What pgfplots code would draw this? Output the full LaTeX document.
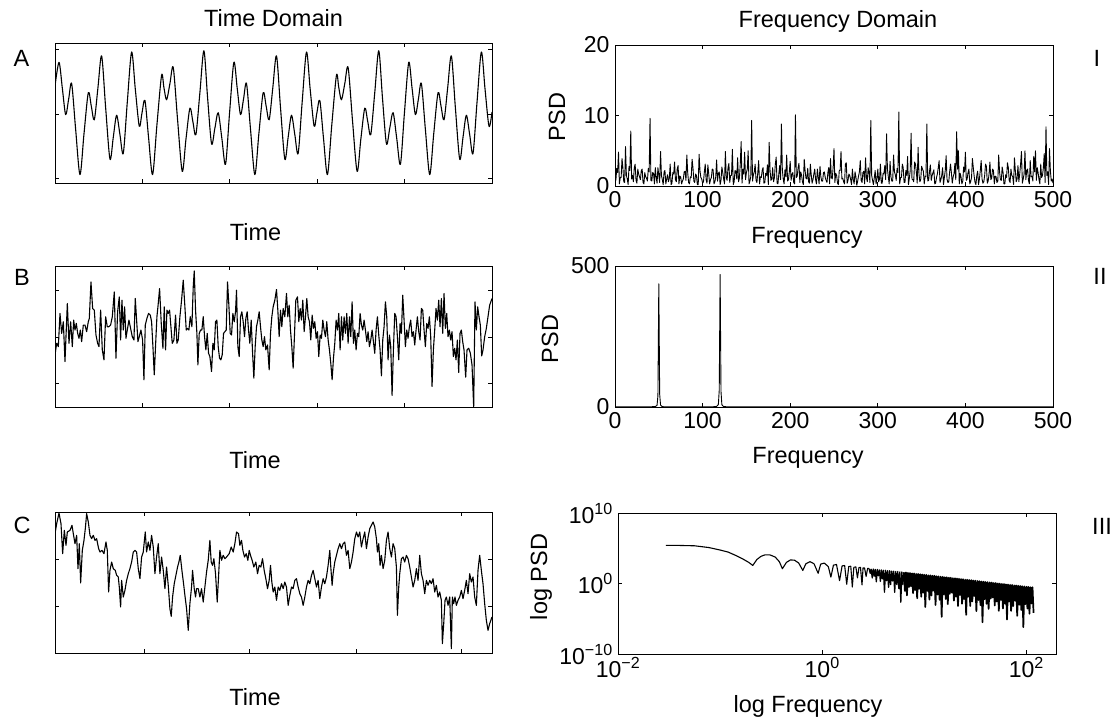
\documentclass[border=0pt]{standalone}
\usepackage{fontspec}
\setmainfont{Liberation Sans}
\usepackage{pgfplots}
\pgfplotsset{compat=1.18}

\newcommand\lab{\fontsize{23.5}{24}\selectfont}

\pgfplotsset{
  panel/.style={
    scale only axis, anchor=north west,
    axis line style={line width=0.9pt},
    every tick/.style={line width=0.9pt, black},
    major tick length=4pt,
    tick align=inside,
    tick label style={font=\fontsize{23}{23}\selectfont},
    xticklabel style={yshift=-1.5pt},
    yticklabel style={xshift=-2pt},
    /pgf/number format/assume math mode=true,
  },
  blank/.style={xticklabels={}, yticklabels={}},
  trace/.style={black, line width=1.1pt, line join=round, no markers},
}

\begin{document}
\begin{tikzpicture}
\useasboundingbox (0,0) rectangle (1117pt,-718pt);

% ---- left column: time domain ----
\begin{axis}[panel, blank, at={(55pt,-43pt)}, width=437pt, height=140pt,
  xmin=0, xmax=1312, ymin=-1.07, ymax=1.10,
  xtick={262.4,524.8,787.2,1049.6}, ytick={-1,0,1}]
\addplot[trace, smooth] coordinates {
(0,0.43)(12,0.80)(22,0.40)(32,-0.01)(41,0.23)(50,0.47)(62,-0.24)(75,-0.94)(87,-0.31)(100,0.33)(109,0.12)(118,-0.09)(129,0.41)(140,0.90)(152,0.10)(165,-0.70)(175,-0.36)(185,-0.02)(195,-0.32)(205,-0.61)(217,0.18)(230,0.96)(241,0.39)(253,-0.19)(261,0.01)(270,0.21)(281,-0.37)(293,-0.94)(306,-0.17)(320,0.60)(327,0.41)(335,0.22)(345,0.47)(355,0.72)(368,-0.09)(382,-0.89)(393,-0.40)(405,0.09)(414,-0.12)(423,-0.32)(435,0.33)(447,0.98)(458,0.26)(470,-0.46)(480,-0.22)(490,0.02)(501,-0.38)(512,-0.78)(524,0.01)
(537,0.80)(547,0.40)(557,-0.01)(566,0.23)(575,0.47)(587,-0.24)(600,-0.94)(612,-0.31)(625,0.33)(634,0.12)(643,-0.09)(654,0.41)(665,0.90)(677,0.10)(690,-0.70)(700,-0.36)(710,-0.02)(720,-0.32)(730,-0.61)(742,0.18)(755,0.96)(766,0.39)(778,-0.19)(786,0.01)(795,0.21)(806,-0.37)(818,-0.94)(831,-0.17)(845,0.60)(852,0.41)(860,0.22)(870,0.47)(880,0.72)(893,-0.09)(907,-0.89)(918,-0.40)(930,0.09)(939,-0.12)(948,-0.32)(960,0.33)(972,0.98)(983,0.26)(995,-0.46)(1005,-0.22)(1015,0.02)(1026,-0.38)(1037,-0.78)(1049,0.01)
(1062,0.80)(1072,0.40)(1082,-0.01)(1091,0.23)(1100,0.47)(1112,-0.24)(1125,-0.94)(1137,-0.31)(1150,0.33)(1159,0.12)(1168,-0.09)(1179,0.41)(1190,0.90)(1202,0.10)(1215,-0.70)(1225,-0.36)(1235,-0.02)(1245,-0.32)(1255,-0.61)(1267,0.18)(1280,0.96)(1291,0.39)(1303,-0.19)(1312,0.03)
};
\end{axis}

\begin{axis}[panel, blank, at={(55pt,-266pt)}, width=437pt, height=141pt,
  xmin=165, xmax=1477, ymin=-472, ymax=-47,
  xtick={427.4,689.8,952.2,1214.6}, ytick={-402,-262,-120}]
\addplot[trace] coordinates {
(165,-315)(170,-280)(175,-290)(180,-190)(185,-250)(190,-215)(195,-335)(202,-160)(207,-280)(212,-215)(217,-290)(221,-210)(225,-240)(229,-220)(233,-250)(237,-265)(241,-240)(245,-275)(250,-225)(255,-225)(260,-245)(265,-215)(268,-205)(273,-95)(278,-175)(283,-180)(288,-255)(293,-280)(297,-290)(302,-180)(307,-300)(312,-330)(317,-200)(322,-230)(327,-230)(332,-225)(337,-200)(343,-125)(348,-325)(353,-185)(358,-140)(362,-270)(366,-150)(370,-240)(374,-170)(378,-265)(382,-240)(387,-210)(392,-235)(397,-260)(402,-270)(406,-145)(410,-210)(414,-275)(418,-260)(423,-240)(428,-270)(432,-390)(436,-225)(441,-205)(446,-190)(451,-195)(455,-215)(459,-290)(463,-375)(467,-285)(471,-200)(475,-160)(479,-115)(484,-220)(489,-295)(493,-170)(497,-300)(501,-180)(505,-190)(509,-180)(513,-230)(517,-280)(522,-270)(527,-195)(531,-280)(535,-270)(540,-200)(545,-150)(550,-90)(555,-170)(559,-240)(563,-235)(567,-240)(571,-200)(576,-230)(580,-110)(583,-62)(587,-180)(591,-250)(594,-345)(598,-250)(602,-240)(606,-240)(610,-200)(614,-260)(618,-300)(622,-250)(626,-310)(630,-320)(635,-365)(639,-280)(643,-300)(647,-215)(651,-210)(655,-290)(659,-325)(663,-330)(667,-315)(671,-250)(675,-245)(679,-240)(683,-95)(687,-165)(691,-250)(695,-255)(699,-190)(703,-215)(707,-185)(710,-120)(714,-290)(718,-320)(722,-200)(726,-185)(730,-215)(734,-260)(738,-205)(742,-185)(746,-240)(750,-280)(754,-210)(758,-305)(762,-385)(766,-290)(770,-230)(774,-210)(778,-185)(782,-230)(786,-270)(790,-290)(794,-260)(798,-300)(803,-285)(808,-360)(812,-250)(816,-200)(820,-170)(825,-150)(830,-118)(834,-180)(838,-260)(842,-180)(846,-230)(850,-175)(855,-200)(860,-130)(864,-200)(868,-165)(872,-240)(876,-290)(880,-355)(884,-255)(888,-150)(893,-140)(897,-215)(901,-175)(905,-210)(909,-150)(913,-245)(917,-200)(921,-145)(925,-200)(929,-215)(933,-270)(937,-195)(941,-235)(945,-215)(949,-265)(953,-245)(957,-320)(961,-255)(965,-265)(969,-210)(973,-240)(977,-260)(981,-215)(985,-270)(989,-300)(993,-340)(997,-390)(1001,-325)(1005,-280)(1009,-210)(1013,-240)(1017,-190)(1021,-300)(1025,-200)(1029,-270)(1033,-200)(1037,-250)(1041,-190)(1045,-280)(1049,-200)(1053,-260)(1057,-155)(1061,-280)(1065,-240)(1069,-300)(1073,-250)(1077,-260)(1081,-190)(1085,-225)(1089,-240)(1093,-210)(1097,-240)(1101,-275)(1105,-245)(1109,-290)(1113,-270)(1117,-240)(1121,-275)(1125,-310)(1129,-240)(1133,-200)(1137,-255)(1141,-300)(1145,-378)(1149,-270)(1153,-230)(1157,-155)(1161,-200)(1165,-330)(1169,-255)(1173,-290)(1177,-437)(1181,-300)(1185,-190)(1189,-200)(1193,-260)(1197,-330)(1201,-220)(1205,-250)(1209,-135)(1213,-210)(1217,-290)(1221,-240)(1225,-265)(1229,-230)(1233,-210)(1237,-260)(1241,-245)(1245,-285)(1249,-240)(1253,-200)(1257,-245)(1261,-270)(1265,-175)(1269,-180)(1273,-240)(1277,-290)(1281,-220)(1285,-235)(1289,-200)(1293,-260)(1297,-410)(1301,-300)(1305,-240)(1309,-175)(1313,-210)(1317,-150)(1321,-230)(1325,-145)(1329,-250)(1333,-130)(1337,-235)(1341,-190)(1345,-260)(1349,-240)(1353,-270)(1357,-245)(1361,-320)(1365,-295)(1369,-330)(1373,-270)(1377,-368)(1381,-250)(1385,-240)(1389,-275)(1393,-300)(1398,-382)(1402,-300)(1407,-295)(1412,-310)(1417,-345)(1422,-472)(1426,-155)(1430,-240)(1434,-170)(1438,-200)(1442,-225)(1446,-318)(1450,-300)(1455,-260)(1460,-235)(1465,-200)(1470,-165)(1477,-145)
};
\end{axis}

\begin{axis}[panel, blank, at={(55pt,-512pt)}, width=437pt, height=141pt,
  xmin=165, xmax=1477, ymin=-488, ymax=-65,
  xtick={435,750,1070,1385}, ytick={-349,-207}]
\addplot[trace] coordinates {
(165,-130)(170,-100)(177,-68)(183,-100)(188,-190)(193,-120)(198,-165)(202,-125)(210,-120)(216,-105)(220,-130)(225,-160)(230,-135)(234,-235)(238,-160)(242,-278)(247,-180)(252,-150)(256,-115)(260,-70)(265,-95)(270,-135)(275,-145)(280,-135)(285,-150)(290,-145)(296,-175)(300,-185)(306,-180)(312,-190)(318,-155)(322,-180)(326,-305)(330,-240)(335,-215)(340,-235)(346,-240)(350,-255)(355,-260)(358,-290)(362,-350)(365,-270)(370,-320)(375,-300)(380,-270)(385,-250)(390,-235)(395,-215)(400,-185)(405,-180)(410,-185)(415,-235)(420,-265)(425,-200)(430,-185)(436,-125)(440,-185)(445,-155)(450,-180)(455,-135)(460,-170)(465,-250)(470,-200)(475,-160)(480,-250)(485,-200)(490,-240)(495,-295)(500,-230)(505,-285)(510,-355)(514,-378)(518,-320)(523,-280)(528,-255)(533,-230)(537,-215)(541,-195)(546,-240)(551,-280)(555,-315)(560,-355)(565,-420)(570,-340)(575,-290)(578,-240)(583,-295)(587,-320)(590,-295)(595,-295)(600,-320)(605,-295)(610,-335)(615,-290)(620,-245)(625,-210)(630,-150)(634,-215)(638,-225)(642,-205)(647,-250)(652,-335)(656,-260)(660,-180)(665,-210)(670,-195)(675,-205)(680,-200)(688,-190)(694,-170)(700,-185)(705,-160)(710,-125)(716,-130)(720,-165)(725,-150)(729,-180)(734,-200)(739,-190)(744,-210)(748,-180)(752,-195)(757,-210)(762,-230)(768,-215)(773,-250)(778,-225)(783,-230)(788,-205)(793,-240)(798,-265)(803,-295)(808,-270)(812,-225)(816,-275)(820,-305)(825,-290)(830,-330)(835,-290)(840,-300)(845,-280)(850,-295)(855,-275)(860,-290)(865,-345)(870,-315)(875,-290)(880,-295)(885,-270)(890,-265)(895,-290)(900,-310)(905,-320)(910,-345)(915,-320)(920,-290)(925,-270)(930,-280)(935,-255)(940,-240)(945,-265)(950,-290)(955,-270)(960,-325)(965,-290)(970,-265)(975,-280)(980,-260)(985,-225)(990,-180)(993,-230)(997,-285)(1000,-250)(1005,-215)(1010,-195)(1015,-175)(1020,-160)(1025,-175)(1030,-160)(1035,-155)(1040,-195)(1045,-180)(1050,-235)(1055,-215)(1060,-185)(1065,-145)(1070,-125)(1075,-140)(1080,-125)(1085,-170)(1090,-145)(1095,-125)(1100,-175)(1105,-140)(1110,-115)(1115,-105)(1120,-95)(1125,-110)(1130,-145)(1133,-185)(1137,-160)(1141,-225)(1145,-195)(1150,-235)(1155,-210)(1160,-150)(1165,-125)(1170,-175)(1175,-200)(1180,-160)(1185,-175)(1190,-230)(1193,-375)(1197,-290)(1200,-250)(1205,-205)(1210,-200)(1215,-215)(1220,-195)(1225,-205)(1230,-230)(1235,-260)(1240,-290)(1245,-270)(1250,-235)(1255,-270)(1260,-195)(1265,-250)(1270,-270)(1275,-310)(1280,-270)(1285,-285)(1290,-270)(1295,-280)(1300,-265)(1305,-305)(1310,-285)(1315,-320)(1320,-305)(1325,-330)(1328,-460)(1332,-400)(1336,-330)(1340,-320)(1345,-345)(1350,-320)(1355,-475)(1358,-320)(1362,-340)(1366,-320)(1370,-345)(1375,-330)(1380,-320)(1385,-300)(1390,-325)(1395,-300)(1400,-270)(1405,-310)(1410,-250)(1415,-275)(1420,-260)(1425,-320)(1430,-345)(1435,-240)(1440,-195)(1445,-240)(1450,-280)(1455,-340)(1460,-390)(1465,-420)(1470,-400)(1477,-380)
};
\end{axis}

% ---- right column: frequency domain ----
\begin{axis}[panel, at={(615pt,-45pt)}, width=438pt, height=141pt,
  xmin=0, xmax=500, ymin=0, ymax=20,
  xtick={0,100,...,500}, ytick={0,10,20}]
\addplot[trace, line width=0.9pt] coordinates {
(0,5.3)(1,0.8)(2,2.5)(3,1.9)(4,4.8)(5,0.3)(6,1.2)(7,1.2)(8,3.9)(9,2.6)(10,0.6)(11,0.5)(12,5.6)(13,1.5)(14,1.0)(15,0.2)(16,2.8)(17,2.2)(18,7.8)(19,1.0)(20,1.5)(21,0.6)(22,2.6)(23,3.1)(24,0.8)(25,0.4)(26,2.4)(27,1.7)(28,1.3)(29,0.9)(30,2.2)(31,2.4)(32,0.5)(33,0.3)(34,1.9)(35,1.3)(36,1.1)(37,0.7)(38,2.5)(39,2.0)
(40,9.6)(41,0.8)(42,0.7)(43,1.9)(44,1.8)(45,0.3)(46,2.6)(47,1.2)(48,0.4)(49,2.6)(50,1.5)(51,0.5)(52,4.9)(53,1.5)(54,0.9)(55,0.2)(56,2.0)(57,2.2)(58,0.3)(59,1.0)(60,1.6)(61,0.6)(62,1.1)(63,3.1)(64,0.2)(65,0.4)(66,1.9)(67,1.7)(68,3.4)(69,0.9)(70,0.6)(71,2.4)(72,2.9)(73,0.3)(74,1.4)(75,1.3)(76,0.3)(77,0.7)(78,1.0)(79,2.0)
(80,2.1)(81,0.8)(82,4.4)(83,1.9)(84,0.5)(85,0.3)(86,1.3)(87,1.2)(88,3.8)(89,2.6)(90,0.7)(91,0.5)(92,1.7)(93,1.5)(94,0.2)(95,0.2)(96,4.5)(97,2.2)(98,1.2)(99,1.0)
(100,0.4)(101,0.6)(102,2.0)(103,3.1)(104,0.9)(105,0.4)(106,3.0)(107,1.7)(108,0.3)(109,0.9)(110,1.2)(111,2.4)(112,2.3)(113,0.3)(114,0.6)(115,1.3)(116,3.7)(117,0.7)(118,1.8)(119,2.0)
(120,0.2)(121,0.8)(122,2.7)(123,1.9)(124,1.0)(125,0.3)(126,4.9)(127,1.2)(128,0.8)(129,2.6)(130,3.2)(131,0.5)(132,1.5)(133,1.5)(134,5.2)(135,0.2)(136,0.6)(137,2.2)(138,2.1)(139,1.0)
(140,4.0)(141,0.6)(142,1.1)(143,3.1)(144,6.3)(145,0.4)(146,2.4)(147,1.7)(148,4.8)(149,0.9)(150,1.9)(151,2.4)(152,5.0)(153,0.3)(154,0.7)(155,1.3)(156,9.3)(157,0.7)(158,1.6)(159,2.0)
(160,3.1)(161,0.8)(162,0.5)(163,1.9)(164,3.6)(165,0.3)(166,1.3)(167,1.2)(168,2.2)(169,2.6)(170,0.4)(171,0.5)(172,1.8)(173,1.5)(174,3.0)(175,0.2)(176,6.2)(177,2.2)(178,0.8)(179,1.0)
(180,2.6)(181,0.6)(182,1.2)(183,3.1)(184,4.1)(185,0.4)(186,0.3)(187,1.7)(188,2.9)(189,0.9)(190,8.8)(191,2.4)(192,1.0)(193,0.3)(194,2.3)(195,1.3)(196,4.4)(197,0.7)(198,0.9)(199,2.0)
(200,3.5)(201,0.8)(202,1.7)(203,1.9)(204,0.5)(205,0.3)(206,10.1)(207,1.2)(208,1.4)(209,2.6)(210,3.2)(211,0.5)(212,2.0)(213,1.5)(214,0.6)(215,0.2)(216,3.8)(217,2.2)(218,1.1)(219,1.0)
(220,2.5)(221,0.6)(222,0.4)(223,3.1)(224,1.6)(225,0.4)(226,0.9)(227,1.7)(228,2.4)(229,0.9)(230,0.3)(231,2.4)(232,1.3)(233,0.3)(234,2.8)(235,1.3)(236,0.7)(237,0.7)(238,1.9)(239,2.0)
(240,1.2)(241,0.8)(242,0.5)(243,1.9)(244,2.6)(245,0.3)(246,3.9)(247,1.2)(248,1.0)(249,2.6)(250,5.3)(251,0.5)(252,1.8)(253,1.5)(254,0.4)(255,0.2)(256,2.2)(257,2.2)(258,4.9)(259,1.0)
(260,1.1)(261,0.6)(262,0.3)(263,3.1)(264,3.3)(265,0.4)(266,0.8)(267,1.7)(268,1.5)(269,0.9)(270,0.2)(271,2.4)(272,0.9)(273,0.3)(274,2.0)(275,1.3)(276,0.1)(277,0.7)(278,1.4)(279,2.0)
(280,3.6)(281,0.8)(282,0.5)(283,1.9)(284,2.1)(285,0.3)(286,4.0)(287,1.2)(288,0.6)(289,2.6)(290,1.9)(291,0.5)(292,9.3)(293,1.5)(294,0.8)(295,0.2)(296,1.2)(297,2.2)(298,0.3)(299,1.0)
(300,2.4)(301,0.6)(302,1.0)(303,3.1)(304,0.4)(305,0.4)(306,1.8)(307,1.7)(308,2.9)(309,0.9)(310,7.4)(311,2.4)(312,1.3)(313,0.3)(314,3.5)(315,1.3)(316,0.7)(317,0.7)(318,4.4)(319,2.0)
(320,1.6)(321,0.8)(322,2.5)(323,1.9)(324,10.5)(325,0.3)(326,1.2)(327,1.2)(328,3.1)(329,2.6)(330,0.5)(331,0.5)(332,2.2)(333,1.5)(334,4.2)(335,0.2)(336,1.1)(337,2.2)(338,7.5)(339,1.0)
(340,0.9)(341,0.6)(342,3.4)(343,3.1)(344,2.0)(345,0.4)(346,5.5)(347,1.7)(348,0.6)(349,0.9)(350,2.8)(351,2.4)(352,2.1)(353,0.3)(354,1.4)(355,1.3)(356,8.8)(357,0.7)(358,0.8)(359,2.0)
(360,3.0)(361,0.8)(362,1.5)(363,1.9)(364,2.3)(365,0.3)(366,0.4)(367,1.2)(368,1.7)(369,2.6)(370,3.6)(371,0.5)(372,0.9)(373,1.5)(374,2.6)(375,0.2)(376,1.2)(377,2.2)(378,4.3)(379,1.0)
(380,0.5)(381,0.6)(382,2.0)(383,3.1)(384,1.9)(385,0.4)(386,1.3)(387,1.7)(388,3.2)(389,0.9)(390,7.7)(391,2.4)(392,5.0)(393,0.3)(394,1.8)(395,1.3)(396,0.3)(397,0.7)(398,2.7)(399,2.0)
(400,4.8)(401,0.8)(402,1.0)(403,1.9)(404,2.4)(405,0.3)(406,0.6)(407,1.2)(408,3.9)(409,2.6)(410,1.4)(411,0.5)(412,0.2)(413,1.5)(414,2.1)(415,0.2)(416,1.0)(417,2.2)(418,3.6)(419,1.0)
(420,0.4)(421,0.6)(422,1.5)(423,3.1)(424,2.8)(425,0.4)(426,0.7)(427,1.7)(428,3.4)(429,0.9)(430,1.1)(431,2.4)(432,2.2)(433,0.3)(434,1.4)(435,1.3)(436,0.5)(437,0.7)(438,4.4)(439,2.0)
(440,0.9)(441,0.8)(442,2.7)(443,1.9)(444,0.3)(445,0.3)(446,1.6)(447,1.2)(448,3.3)(449,2.6)(450,0.8)(451,0.5)(452,2.4)(453,1.5)(454,1.3)(455,0.2)(456,4.0)(457,2.2)(458,0.6)(459,1.0)
(460,2.9)(461,0.6)(462,1.7)(463,3.1)(464,4.9)(465,0.4)(466,1.0)(467,1.7)(468,5.0)(469,0.9)(470,2.2)(471,2.4)(472,0.8)(473,0.3)(474,3.6)(475,1.3)(476,1.4)(477,0.7)(478,4.2)(479,2.0)
(480,5.0)(481,0.8)(482,2.6)(483,1.9)(484,0.9)(485,0.3)(486,3.1)(487,1.2)(488,1.5)(489,2.6)(490,4.6)(491,0.5)(492,8.4)(493,1.5)(494,2.0)(495,0.2)(496,5.3)(497,2.2)(498,0.7)(499,1.0)(500,0.4)
};
\end{axis}

\begin{axis}[panel, at={(615pt,-266pt)}, width=438pt, height=141pt,
  xmin=0, xmax=500, ymin=0, ymax=500,
  xtick={0,100,...,500}, ytick={0,500}]
\addplot[trace, line width=0.9pt] coordinates {
(0,0.5)(10,0.3)(20,0.6)(30,0.4)(40,0.8)(46,1.5)(48,6)(49,40)(50,437)(51,45)(52,7)(54,1.2)(60,0.6)(80,0.4)(100,0.5)(112,0.9)(116,2)(118,9)(119,60)(120,470)(121,55)(122,8)(124,1.5)(130,0.5)(160,0.3)(200,0.4)(250,0.2)(300,0.3)(350,0.2)(400,0.3)(450,0.2)(500,0.2)
};
\end{axis}

% log-log spectrum, values given as log10
\begin{axis}[panel, at={(618pt,-513pt)}, width=438pt, height=141pt,
  xmin=-2, xmax=2.29, ymin=-10, ymax=10,
  xtick={-2,0,2}, ytick={-10,0,10},
  xticklabels={10\textsuperscript{−2},10\textsuperscript{0},10\textsuperscript{2}},
  yticklabels={10\textsuperscript{−10},10\textsuperscript{0},10\textsuperscript{10}},
  xticklabel style={inner sep=2pt, yshift=0pt}, yticklabel style={inner sep=3pt, xshift=0pt}]
% smooth part and single lobes
\addplot[trace, line width=1.1pt] coordinates {
(-1.53,5.4)(-1.40,5.4)(-1.25,5.35)(-1.11,5.1)(-1.00,4.75)(-0.92,4.45)(-0.85,4.0)(-0.78,3.5)(-0.72,3.0)(-0.68,2.56)(-0.64,3.4)(-0.60,3.85)(-0.56,4.07)(-0.51,4.05)(-0.46,3.75)(-0.42,3.1)(-0.39,2.1)(-0.35,3.0)(-0.31,3.35)(-0.27,3.3)(-0.23,2.9)(-0.19,1.85)(-0.16,2.8)(-0.12,3.1)(-0.08,2.8)(-0.04,1.45)(-0.015,2.75)(0.02,2.9)(0.06,2.4)(0.085,0.9)(0.11,2.6)(0.14,2.7)(0.17,0.4)(0.195,2.5)(0.22,2.55)(0.24,-0.1)(0.26,2.4)(0.28,2.45)(0.295,-0.5)(0.31,2.3)(0.33,2.35)(0.345,0.8)(0.36,2.25)(0.375,2.3)(0.39,-0.2)(0.40,2.2)(0.415,2.2)(0.43,1.0)(0.445,2.15)(0.46,2.11)
};
% lobes getting denser
\addplot[trace, line width=1.3pt] coordinates {
(0.46,2.11)(0.47,1.44)(0.48,2.03)(0.49,0.80)(0.50,2.05)(0.51,1.05)(0.52,2.00)(0.53,0.24)(0.54,1.99)(0.55,1.09)(0.56,1.93)(0.57,0.30)(0.58,1.93)(0.59,0.66)(0.60,1.88)(0.61,-1.24)(0.62,1.87)(0.63,0.39)(0.64,1.82)(0.65,-0.54)(0.66,1.81)(0.67,-0.14)(0.68,1.76)(0.69,0.36)(0.70,1.75)(0.71,-1.25)(0.72,1.70)(0.73,-0.13)(0.74,1.69)(0.75,-0.72)(0.76,1.64)(0.77,-2.65)(0.78,1.63)(0.79,-0.12)(0.80,1.58)
};
% dense band at high frequency
\addplot[trace, line width=1.7pt] coordinates {
(0.80,1.58)(0.81,-1.06)(0.82,1.57)(0.83,-1.68)(0.84,1.51)(0.85,-0.51)(0.86,1.50)(0.87,-0.40)(0.88,1.44)(0.89,-1.37)(0.90,1.43)(0.91,-0.92)(0.92,1.38)(0.93,-2.09)(0.94,1.36)(0.95,-0.76)(0.96,1.31)(0.97,-1.87)(0.98,1.29)(0.99,-1.30)(1.00,1.24)(1.01,-3.34)(1.02,1.23)(1.03,-1.05)(1.04,1.17)(1.05,-2.29)(1.06,1.16)(1.07,-1.71)(1.08,1.10)(1.09,-1.01)(1.10,1.09)(1.11,-3.06)(1.12,1.04)(1.13,-1.58)(1.14,1.02)(1.15,-2.32)(1.16,0.97)(1.17,-4.73)(1.18,0.95)(1.19,-1.54)
(1.20,0.90)(1.21,-2.20)(1.22,0.89)(1.23,-2.93)(1.24,0.83)(1.25,-1.46)(1.26,0.82)(1.27,-1.30)(1.28,0.76)(1.29,-2.43)(1.30,0.75)(1.31,-1.87)(1.32,0.70)(1.33,-3.20)(1.34,0.68)(1.35,-1.63)(1.36,0.63)(1.37,-2.87)(1.38,0.61)(1.39,-2.20)(1.40,0.56)(1.41,-4.44)(1.42,0.55)(1.43,-1.87)(1.44,0.49)(1.45,-3.20)(1.46,0.48)(1.47,-2.54)(1.48,0.42)(1.49,-1.77)(1.50,0.41)(1.51,-3.91)(1.52,0.36)(1.53,-2.34)(1.54,0.34)(1.55,-3.07)(1.56,0.29)(1.57,-5.51)(1.58,0.27)(1.59,-2.24)
(1.60,0.22)(1.61,-2.88)(1.62,0.21)(1.63,-3.61)(1.64,0.15)(1.65,-2.14)(1.66,0.14)(1.67,-1.98)(1.68,0.08)(1.69,-3.11)(1.70,0.07)(1.71,-2.55)(1.72,0.02)(1.73,-3.88)(1.74,0.00)(1.75,-2.32)(1.76,-0.05)(1.77,-3.55)(1.78,-0.07)(1.79,-2.88)(1.80,-0.12)(1.81,-5.12)(1.82,-0.13)(1.83,-2.55)(1.84,-0.19)(1.85,-3.89)(1.86,-0.20)(1.87,-3.22)(1.88,-0.26)(1.89,-2.45)(1.90,-0.27)(1.91,-4.59)(1.92,-0.32)(1.93,-3.02)(1.94,-0.34)(1.95,-3.76)(1.96,-0.39)(1.97,-6.19)(1.98,-0.41)(1.99,-2.92)
(2.00,-0.46)(2.01,-3.56)(2.02,-0.47)(2.03,-4.29)(2.04,-0.53)(2.05,-2.83)(2.06,-0.54)(2.07,-4.16)
};
\end{axis}

% ---- titles, panel letters and axis labels ----
\node[anchor=base, font=\lab] at (273.5pt,-26.7pt) {Time Domain};
\node[anchor=base, font=\lab] at (838pt,-27pt) {Frequency Domain};
\node[anchor=base, font=\lab] at (21.5pt,-66.7pt) {A};
\node[anchor=base, font=\lab] at (22pt,-285pt) {B};
\node[anchor=base, font=\lab] at (22pt,-533pt) {C};
\node[anchor=base, font=\lab] at (1097pt,-66.5pt) {I};
\node[anchor=base, font=\lab] at (1100pt,-284pt) {II};
\node[anchor=base, font=\lab] at (1102pt,-534pt) {III};
\node[anchor=base, font=\lab] at (255.5pt,-240.7pt) {Time};
\node[anchor=base, font=\lab] at (255pt,-468pt) {Time};
\node[anchor=base, font=\lab] at (255pt,-705pt) {Time};
\node[anchor=base, font=\lab] at (807pt,-243pt) {Frequency};
\node[anchor=base, font=\lab] at (808pt,-463pt) {Frequency};
\node[anchor=base, font=\lab] at (808pt,-712pt) {log Frequency};
\node[anchor=base, font=\lab, rotate=90] at (565pt,-117pt) {PSD};
\node[anchor=base, font=\lab, rotate=90] at (558pt,-339pt) {PSD};
\node[anchor=base, font=\lab, rotate=90] at (547pt,-577pt) {log PSD};
\end{tikzpicture}
\end{document}
